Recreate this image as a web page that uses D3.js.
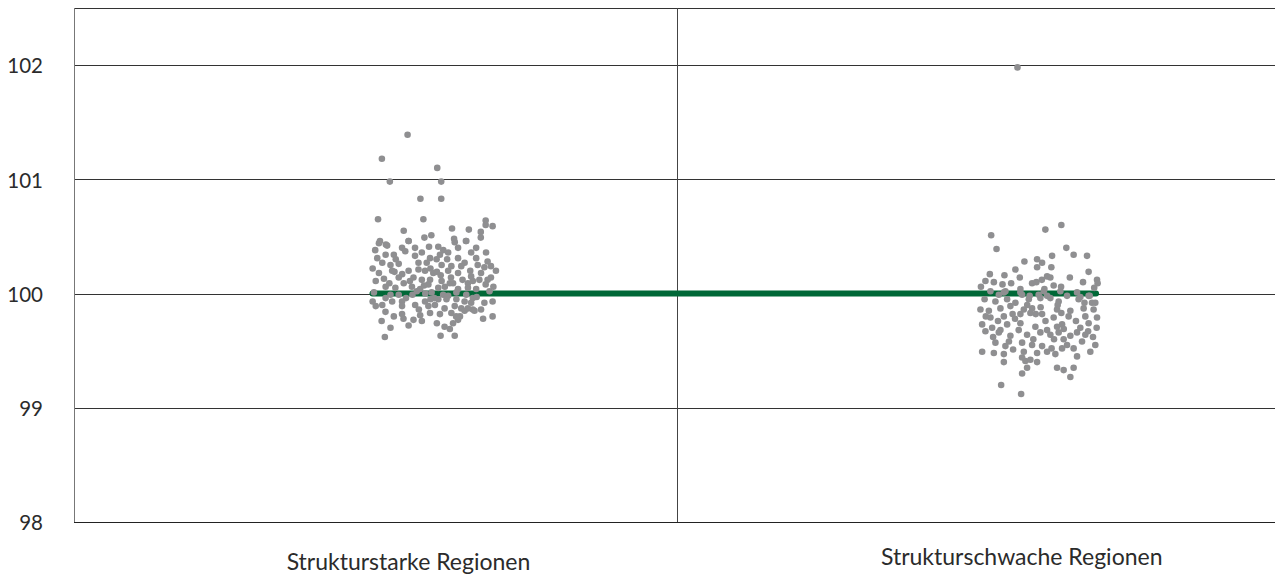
<!DOCTYPE html>
<html><head><meta charset="utf-8">
<script src="https://cdn.jsdelivr.net/npm/d3@7/dist/d3.min.js"></script>
<style>html,body{margin:0;padding:0;background:#fff;} svg{display:block;font-family:Lato,"Noto Sans",sans-serif;}</style>
</head><body>
<svg id="chart" width="1275" height="579"></svg>
<script>
const categories = ["Strukturstarke Regionen", "Strukturschwache Regionen"];
const yTicks = [98, 99, 100, 101, 102];
const referenceValue = 100;
// [jitter 0..1, value]
const strongPoints = [
[0.292,101.39],[0.092,101.18],[0.523,101.10],[0.154,100.98],[0.554,100.98],[0.392,100.83],[0.554,100.83],[0.062,100.65],[0.415,100.65],[0.262,100.55],[0.638,100.57],[0.769,100.56],[0.9,100.64],[0.954,100.59],[0.9,100.60],[0.862,100.54],[0.862,100.49],[0.423,100.49],[0.477,100.51],[0.654,100.48],[0.3,100.46],[0.077,100.46],[0.123,100.43],[0.746,100.46],
[0.069,100.44],[0.133,100.42],[0.3,100.46],[0.459,100.41],[0.531,100.41],[0.659,100.45],[0.749,100.46],[0.685,100.40],[0.826,100.40],[0.787,100.36],[0.903,100.36],[0.544,100.34],[0.608,100.36],
[0.056,100.31],[0.121,100.34],[0.185,100.34],[0.249,100.40],[0.274,100.37],[0.403,100.36],[0.467,100.31],[0.518,100.30],[0.685,100.31],[0.736,100.27],[0.826,100.31],[0.915,100.28],[0.941,100.24],[0.98,100.20],
[0.095,100.27],[0.159,100.25],[0.223,100.26],[0.377,100.27],[0.441,100.27],[0.557,100.25],[0.633,100.24],[0.71,100.24],[0.838,100.25],[0.89,100.23],
[0.069,100.18],[0.172,100.20],[0.3,100.20],[0.377,100.21],[0.428,100.20],[0.492,100.18],[0.608,100.20],[0.685,100.18],[0.787,100.15],[0.864,100.18],[0.941,100.14],
[0.044,100.11],[0.108,100.13],[0.223,100.14],[0.262,100.09],[0.338,100.14],[0.403,100.12],[0.467,100.12],[0.557,100.11],[0.621,100.09],[0.762,100.09],[0.8,100.11],[0.851,100.12],[0.915,100.12],
[0.121,100.06],[0.197,100.05],[0.326,100.06],[0.39,100.04],[0.454,100.08],[0.531,100.05],[0.582,100.06],[0.685,100.04],[0.762,100.05],[0.826,100.04],[0.646,100.09],
[0.159,99.99],[0.223,99.99],[0.364,100.02],[0.479,100.01],[0.569,99.99],[0.608,99.98],[0.672,100.01],[0.749,99.99],[0.8,99.96],[0.121,99.96],
[0.172,99.93],[0.249,99.93],[0.428,99.93],[0.531,99.95],[0.595,99.95],[0.672,99.95],[0.736,99.93],[0.787,99.92],[0.89,99.92],[0.044,99.89],[0.095,99.90],[0.249,99.89],[0.351,99.90],[0.454,99.89],[0.505,99.90],[0.659,99.89],[0.71,99.87],[0.8,99.86],[0.954,99.93],[0.864,99.86],
[0.185,99.80],[0.249,99.82],[0.338,99.77],[0.39,99.81],[0.403,99.76],[0.467,99.83],[0.544,99.82],[0.633,99.83],[0.736,99.85],[0.762,99.87],[0.813,99.85],[0.954,99.80],[0.09,99.76],[0.159,99.70],[0.621,99.69],[0.646,99.74],[0.685,99.77],
[0.115,99.62],[0.549,99.63],[0.659,99.63],
[0.2,100.30],[0.35,100.33],[0.6,100.30],[0.47,100.22],[0.25,100.17],[0.55,100.16],[0.72,100.12],[0.31,100.11],[0.42,100.07],[0.15,100.09],[0.93,100.02],[0.03,100.01],[0.5,99.96],[0.28,99.96],[0.83,99.97],[0.38,99.86],[0.58,99.87],[0.12,99.84],[0.7,99.80],[0.52,99.74],[0.3,99.72],[0.88,99.78],
[0.02,100.22],[0.04,100.38],[0.35,100.40],[0.57,100.38],[0.52,100.19],[0.63,100.14],[0.96,100.06],[0.02,99.93],[0.33,99.99],[0.43,100.00],[0.9,100.08],[0.78,100.20],[0.19,100.19],[0.67,99.80],[0.58,99.71],[0.26,99.78],[0.47,99.95]
];
const weakPoints = [
[0.32,101.98],
[0.104,100.51],[0.148,100.39],[0.549,100.56],[0.68,100.60],[0.721,100.40],[0.781,100.34],[0.891,100.33],[0.377,100.28],[0.481,100.30],[0.522,100.27],[0.604,100.33],[0.481,100.23],[0.598,100.23],[0.303,100.21],[0.904,100.19],[0.093,100.17],[0.213,100.16],[0.339,100.14],[0.563,100.15],[0.59,100.14],[0.057,100.11],[0.126,100.10],[0.197,100.08],[0.268,100.09],[0.44,100.09],[0.475,100.10],[0.973,100.12],[0.978,100.09],[0.858,100.10],[0.541,100.04],[0.617,100.07],[0.678,100.06],[0.344,100.04],[0.358,99.99],[0.221,100.02],[0.098,100.02],[0.167,99.99],[0.809,100.01],[0.727,99.98],[0.913,99.98],[0.836,99.97],[0.563,99.98],[0.494,99.99],
[0.208,100.01],[0.344,100.01],[0.536,100.02],[0.672,100.02],[0.904,99.98],
[0.139,99.93],[0.235,99.95],[0.303,99.92],[0.413,99.95],[0.508,99.96],[0.59,99.96],[0.658,99.93],[0.822,99.95],[0.932,99.92],[0.959,99.92],
[0.016,99.86],[0.085,99.85],[0.18,99.87],[0.262,99.89],[0.372,99.86],[0.44,99.87],[0.645,99.86],[0.754,99.85],[0.863,99.87],[0.945,99.86],
[0.098,99.79],[0.208,99.80],[0.344,99.82],[0.426,99.83],[0.522,99.82],[0.617,99.79],[0.74,99.80],[0.877,99.80],[0.973,99.79],
[0.03,99.73],[0.112,99.70],[0.18,99.68],[0.235,99.73],[0.344,99.74],[0.467,99.71],[0.563,99.68],[0.645,99.71],[0.686,99.73],[0.836,99.70],[0.904,99.74],
[0.057,99.67],[0.167,99.66],[0.262,99.63],[0.399,99.64],[0.508,99.66],[0.59,99.64],[0.658,99.66],[0.809,99.66],[0.877,99.64],
[0.139,99.57],[0.221,99.54],[0.358,99.57],[0.44,99.55],[0.522,99.54],[0.699,99.60],[0.754,99.63],[0.727,99.55],[0.959,99.55],[0.918,99.49],
[0.03,99.49],[0.126,99.48],[0.208,99.47],[0.284,99.51],[0.372,99.49],[0.481,99.48],[0.563,99.49],[0.631,99.47],[0.686,99.52],[0.781,99.52],[0.809,99.45],
[0.208,99.40],[0.358,99.44],[0.385,99.41],[0.426,99.42],[0.481,99.40],[0.645,99.35],[0.699,99.33],[0.781,99.35],[0.754,99.27],[0.399,99.35],[0.358,99.30],
[0.186,99.20],[0.35,99.12],
[0.3,99.78],[0.55,99.76],[0.7,99.69],[0.45,99.60],[0.6,99.52],[0.25,99.58],[0.85,99.58],[0.05,99.95],[0.4,99.90],[0.65,99.90],[0.95,100.05],[0.52,100.12],[0.75,100.14],[0.28,99.82],[0.9,99.67],
[0.02,100.06],[0.12,99.62],[0.47,99.82],[0.62,99.60],[0.8,99.76],[0.97,99.70],[0.33,99.68],[0.51,99.88],[0.06,99.80],[0.87,99.92],[0.42,99.98],[0.68,99.83],[0.16,99.76],[0.94,99.62]
];
const series = [strongPoints, weakPoints];
const referenceSpan = [0.995, 2.195];

(function () {
const W = 1275;
const pl = 74, pr = 1280, pt = 8, pb = 522;
const svg = d3.select("#chart");
const x = d3.scaleLinear().domain([0.5, 2.5]).range([pl, pr]);
const y = d3.scaleLinear().domain([98, 102.5]).range([pb, pt]);
const catStart = [-0.009, 0.0], spread = [0.213, 0.202];

svg.append("g").selectAll("line").data(yTicks.filter(d => d > 98)).join("line")
  .attr("x1", pl).attr("x2", W).attr("y1", d => Math.round(y(d)) + 0.5).attr("y2", d => Math.round(y(d)) + 0.5)
  .attr("stroke", "#333").attr("stroke-width", 1);
svg.append("line").attr("x1", pl).attr("x2", W).attr("y1", pt + 0.5).attr("y2", pt + 0.5)
  .attr("stroke", "#333").attr("stroke-width", 1);
svg.append("line").attr("x1", Math.round(x(1.5)) + 0.5).attr("x2", Math.round(x(1.5)) + 0.5)
  .attr("y1", pt).attr("y2", pb).attr("stroke", "#444").attr("stroke-width", 1);
svg.append("line").attr("x1", pl + 0.5).attr("x2", pl + 0.5).attr("y1", pt).attr("y2", pb)
  .attr("stroke", "#777").attr("stroke-width", 1);
svg.append("line").attr("x1", pl).attr("x2", W).attr("y1", pb + 0.5).attr("y2", pb + 0.5)
  .attr("stroke", "#222").attr("stroke-width", 1.2);

const yAxis = d3.axisLeft(y).tickValues(yTicks).tickSize(0).tickPadding(31).tickFormat(d3.format("d"));
const ga = svg.append("g").attr("transform", `translate(${pl},0)`).call(yAxis);
ga.select(".domain").remove();
ga.selectAll("text").attr("font-size", 20.5).attr("fill", "#2b2b2b").attr("dy", "0.38em")
  .style("font-family", "Lato, 'Noto Sans', sans-serif");

svg.append("line").attr("x1", x(referenceSpan[0])).attr("x2", x(referenceSpan[1]))
  .attr("y1", y(referenceValue)).attr("y2", y(referenceValue))
  .attr("stroke", "#006837").attr("stroke-width", 6).attr("stroke-linecap", "round");

series.forEach((pts, i) => {
  svg.append("g").selectAll("circle").data(pts).join("circle")
    .attr("cx", d => x(i + 1 + catStart[i] + d[0] * spread[i]))
    .attr("cy", d => y(d[1]))
    .attr("r", 3.3).attr("fill", "#8f8f91");
});

const labelAt = [1.0547, 2.0717], labelBase = [570, 565];
svg.append("g").selectAll("text").data(categories).join("text")
  .attr("x", (d, i) => x(labelAt[i])).attr("y", (d, i) => labelBase[i])
  .attr("text-anchor", "middle").attr("font-size", 23).attr("fill", "#2b2b2b").text(d => d);
})();
</script>
</body></html>
